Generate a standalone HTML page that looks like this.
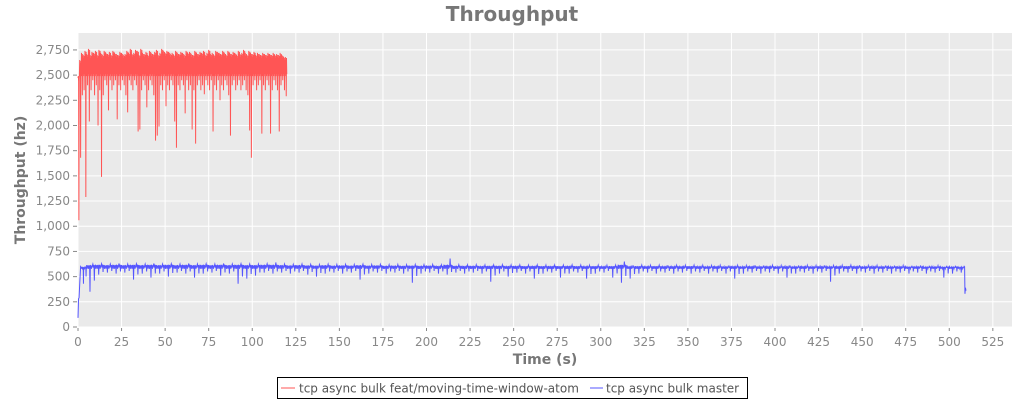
<!DOCTYPE html>
<html><head><meta charset="utf-8"><style>
body{margin:0;background:#fff;}
svg text{font-family:"DejaVu Sans","Liberation Sans",sans-serif;}
</style></head><body>
<svg id="chart" width="1024" height="400" xmlns="http://www.w3.org/2000/svg">
<text x="512" y="21" text-anchor="middle" font-size="20" font-weight="bold" fill="#777">Throughput</text>
<rect x="78" y="33" width="934" height="294" fill="#eaeaea"/>
<g id="grid"></g>
<g id="xticks"></g>
<g id="yticks"></g>
<g id="series"></g>
<text x="545" y="364" text-anchor="middle" font-size="14" font-weight="bold" fill="#777">Time (s)</text>
<text transform="translate(25,180) rotate(-90)" text-anchor="middle" font-size="14" font-weight="bold" fill="#777">Throughput (hz)</text>
<g>
<rect x="277.5" y="377.5" width="470" height="21" fill="#fff" stroke="#000"/>
<g><line x1="281" y1="388" x2="295" y2="388" stroke="#ff5555"/><text x="299" y="392.5" font-size="12" fill="#555">tcp async bulk feat/moving-time-window-atom</text></g>
<g><line x1="590" y1="388" x2="603" y2="388" stroke="#5555ff"/><text x="606" y="392.5" font-size="12" fill="#555">tcp async bulk master</text></g>
</g>
</svg>
<script>
const xTicks=[0,25,50,75,100,125,150,175,200,225,250,275,300,325,350,375,400,425,450,475,500,525];
const yTicks=[0,250,500,750,1000,1250,1500,1750,2000,2250,2500,2750];
const redHi=[2470,2650,2720,2700,2740,2710,2760,2700,2730,2720,2740,2700,2750,2720,2700,2740,2720,2710,2730,2700,2740,2720,2710,2700,2730,2720,2700,2710,2740,2720,2760,2710,2720,2750,2740,2700,2760,2720,2710,2730,2700,2740,2720,2710,2730,2750,2700,2720,2760,2740,2720,2740,2730,2710,2720,2700,2740,2720,2710,2730,2720,2700,2740,2720,2730,2710,2700,2740,2720,2710,2730,2720,2740,2700,2720,2750,2710,2720,2700,2740,2730,2720,2710,2740,2720,2700,2740,2720,2710,2730,2720,2700,2740,2710,2720,2750,2720,2700,2740,2720,2710,2730,2700,2720,2710,2700,2720,2710,2700,2720,2710,2700,2720,2700,2710,2700,2720,2700,2680,2680];
const redLo=[1060,1680,2300,2350,1290,2400,2040,2350,2450,2300,2400,2000,2350,1490,2300,2450,2400,2150,2450,2350,2400,2450,2060,2400,2350,2450,2400,2300,2130,2450,2400,2350,2450,2400,1940,1960,2350,2450,2400,2180,2350,2450,2400,2300,1850,1900,1990,2400,2350,2450,2190,2400,2350,2450,2400,2040,1780,2400,2350,2450,2400,2120,2450,2350,2400,1960,2350,1820,2400,2450,2350,2400,2310,2450,2400,2350,2450,1940,2400,2350,2450,2250,2400,2350,2450,2400,2300,1900,2400,2450,2350,2400,2450,2350,2400,2450,2350,2300,1950,1680,2400,2450,2350,2400,2450,1920,2400,2350,2450,2400,1920,2350,2450,2400,2350,1940,2400,2450,2350,2290];
const redFloor=[2490];
const blueHi=[600,625,628,625,630,625,628,625,630,625,628,625,630,625,628,625,630,625,628,625,625,628,640,625,622,625,622,620,624,620,622,620,624,620,622,618,620,618,620,618,620,616,680,618,616,618,615,616,618,615,616,614,616,614,615,614,616,614,612,614,612,614,650,612,614,612,614,612,613,612,614,612,610,612,610,612,610,612,610,612,610,611,610,612,610,611,610,612,614,612,610,611,610,609,610,608,610,608,609,607,608,606];
const blueLo=[430,350,520,540,530,540,470,530,490,530,500,540,530,490,530,540,510,530,430,480,510,540,530,540,530,540,520,500,530,540,530,540,470,530,540,530,540,530,440,530,540,530,520,540,530,540,530,450,530,500,540,530,480,530,540,490,530,540,480,530,540,490,440,480,530,540,530,540,530,540,530,540,530,540,530,480,530,540,530,540,530,490,530,540,530,540,450,530,540,530,540,530,540,530,540,530,540,530,540,490,530,540];
const blueFloor=[572];
const blueStartX=[0,0.3,0.6,1,1.5],blueStartY=[90,280,290,430,600];
const blueEndX=[508.8,509,509.3,509.6],blueEndY=[600,330,390,360];
const L=78,R=1012,T=33,B=327,XMAX=536,YMAX=2918;
const sx=v=>L+v*(R-L)/XMAX, sy=v=>B-v*(B-T)/YMAX;
const NS='http://www.w3.org/2000/svg';
function mk(tag,at,parent){const e=document.createElementNS(NS,tag);for(const k in at)e.setAttribute(k,at[k]);parent.appendChild(e);return e;}
const grid=document.getElementById('grid'),xt=document.getElementById('xticks'),yt=document.getElementById('yticks'),ser=document.getElementById('series');
xTicks.forEach(t=>{const x=sx(t);
 const g=mk('line',{x1:x,x2:x,y1:T,y2:B,stroke:'#fff','stroke-width':1},grid);
 
 
 mk('line',{x1:x,x2:x,y1:B+1,y2:B+4,stroke:'#888'},xt);
 const tx=mk('text',{x:x,y:B+19,'text-anchor':'middle','font-size':12,fill:'#888'},xt);tx.textContent=t;
 
 
});
yTicks.forEach(t=>{const y=sy(t);
 const g=mk('line',{x1:L,x2:R,y1:y,y2:y,stroke:'#fff','stroke-width':1},grid);
 
 
 mk('line',{x1:L-5,x2:L-1,y1:y,y2:y,stroke:'#888'},yt);
 const tx=mk('text',{x:L-8,y:y+4,'text-anchor':'end','font-size':12,fill:'#888'},yt);tx.textContent=t.toLocaleString('en-US');
 
 
});
let d='';
for(let i=0;i<redHi.length;i++){
 const pts=[[i,redHi[i]],[i+0.2,redFloor[0]],[i+0.35,redHi[i]-30],[i+0.5,redLo[i]],[i+0.65,redHi[i]-10],[i+0.8,redFloor[0]+20]];
 pts.forEach((p,k)=>{d+=(i===0&&k===0?'M':'L')+sx(p[0]).toFixed(2)+','+sy(p[1]).toFixed(1);});
}
const rp=mk('path',{d:d,fill:'none',stroke:'#ff5555','stroke-width':1},ser);


let b='';
blueStartX.forEach((x,k)=>{b+=(k===0?'M':'L')+sx(x).toFixed(2)+','+sy(blueStartY[k]).toFixed(1);});
const N=24;
for(let i=0;i<blueHi.length;i++){
 const x0=Math.max(i*5,2);const w=(i*5+5-x0);
 const base=Math.min(blueHi[i],628);
 for(let k=0;k<N;k++){
  const xx=x0+w*k/N;
  let v;
  if(k===9)v=blueLo[i];
  else if(k===17)v=blueHi[i];
  else if(k===21)v=(blueLo[i]+blueFloor[0])/2;
  else v=(k%2===0)?base-10-(k%5)*2:blueFloor[0]+(k%4)*6;
  if(xx>508.8)break;
  b+='L'+sx(xx).toFixed(2)+','+sy(v).toFixed(1);
 }
}
blueEndX.forEach((x,k)=>{b+='L'+sx(x).toFixed(2)+','+sy(blueEndY[k]).toFixed(1);});
const bp=mk('path',{d:b,fill:'none',stroke:'#5555ff','stroke-width':1},ser);


</script>
</body></html>
